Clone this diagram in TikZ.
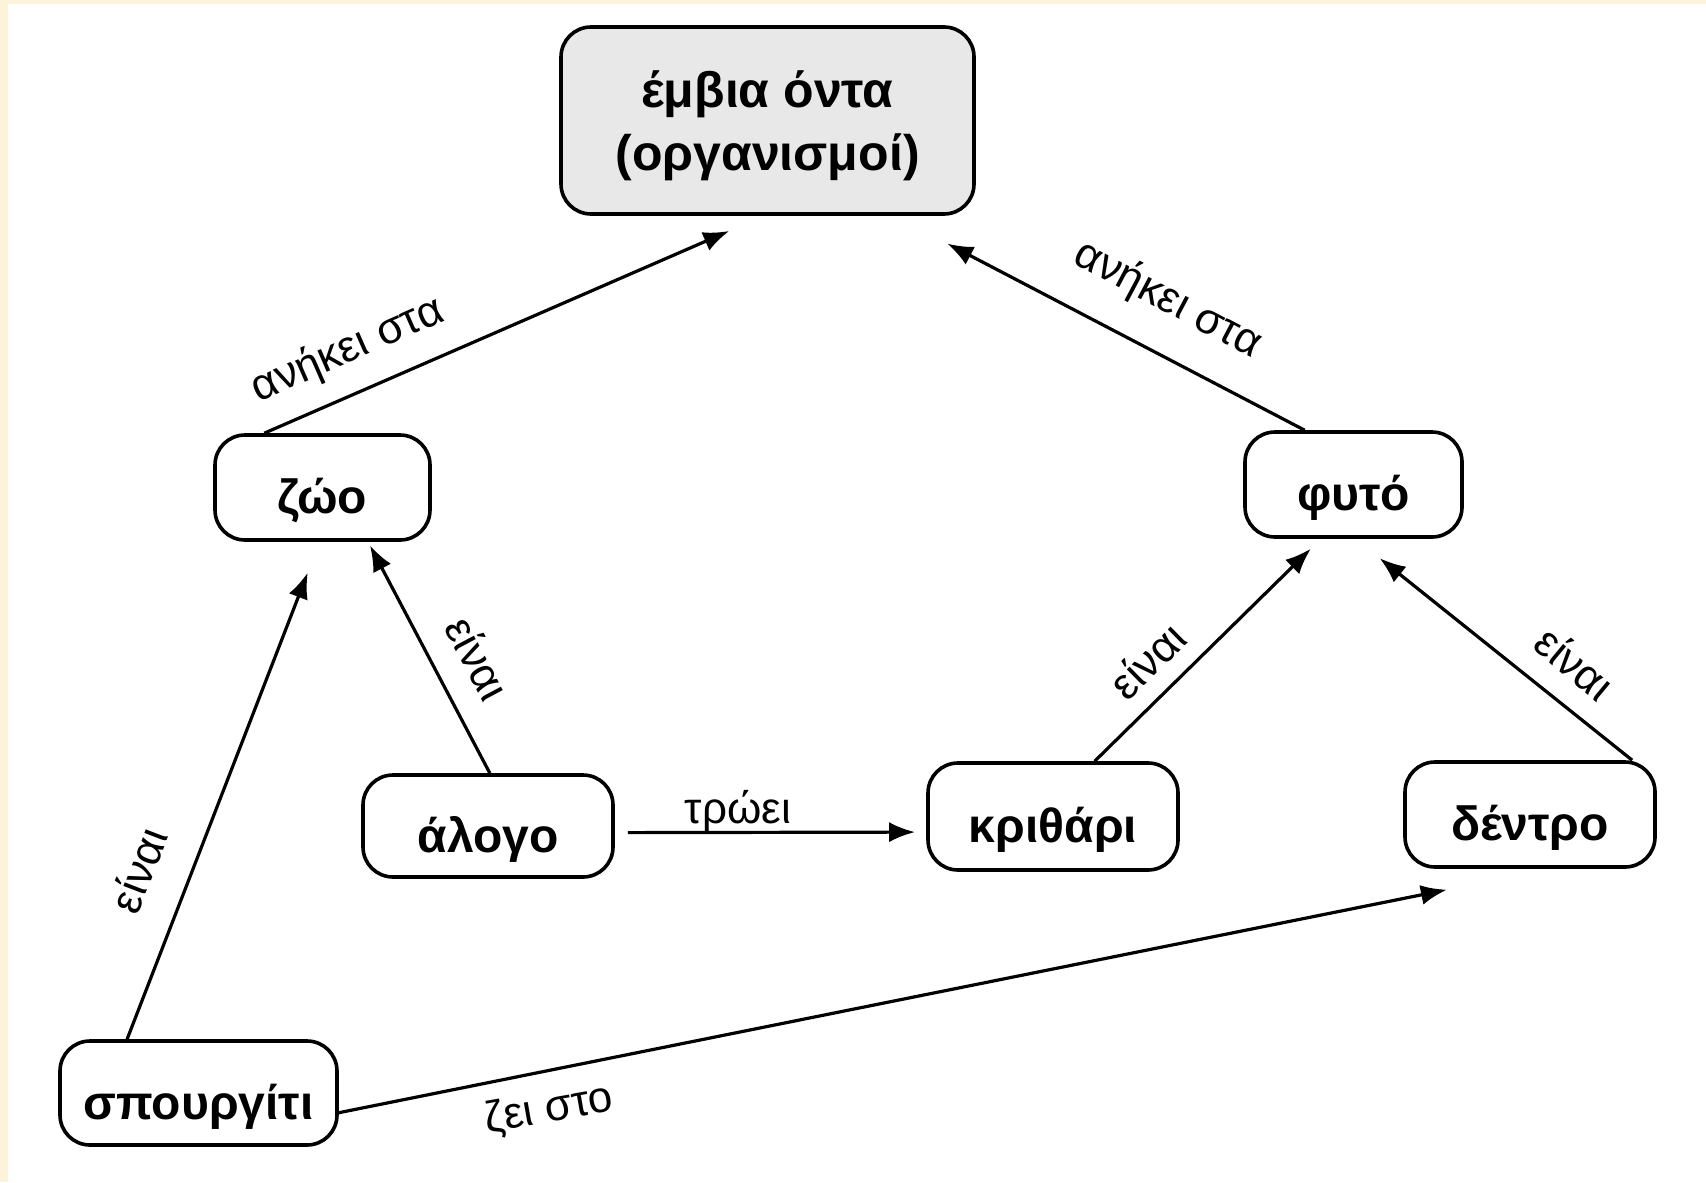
\documentclass[tikz,border=0pt]{standalone}
\usepackage{fontspec}
\setmainfont{Liberation Sans}
\usetikzlibrary{arrows.meta}
\definecolor{paper}{HTML}{FDF2DA}
\tikzset{
  concept/.style={draw=black, line width=1.8pt, rounded corners=15pt, fill=white,
    inner sep=0pt, text height=31pt, text depth=5pt,
    font=\fontsize{24}{28}\selectfont\bfseries},
  rootbox/.style={draw=black, line width=1.8pt, rounded corners=15pt, fill=black!9,
    inner sep=0pt, font=\fontsize{25}{31.5}\selectfont\bfseries},
  link/.style={line width=1.6pt, -{Latex[length=13pt,width=10pt]}},
  linklabel/.style={font=\fontsize{22}{26}\selectfont, inner sep=0pt}
}
\begin{document}
\begin{tikzpicture}[x=0.5pt, y=-0.5pt]
  % page and its tinted margin strips
  \fill[white] (0,0) rectangle (1706,1182);
  \fill[paper] (0,0) rectangle (8,1182);
  \fill[paper] (0,0) rectangle (1706,4);
  \useasboundingbox (0,0) rectangle (1706,1182);

  % concepts
  \node[rootbox, minimum width=206.5pt, minimum height=93.5pt] (org) at (767.5,120.5)
    {\raisebox{-3pt}[\height][\depth]{\begin{tabular}{@{}c@{}}έμβια όντα\\(οργανισμοί)\end{tabular}}};
  \node[concept, minimum width=107.5pt, minimum height=52.5pt] (zoo) at (322.5,487.5) {ζώο};
  \node[concept, minimum width=108.5pt, minimum height=52.5pt] (fyto) at (1353.5,484.5) {φυτό};
  \node[concept, minimum width=125pt, minimum height=51pt] (alogo) at (488,826) {άλογο};
  \node[concept, minimum width=125pt, minimum height=53.5pt] (krith) at (1053,816.5) {κριθάρι};
  \node[concept, minimum width=125pt, minimum height=52.5pt] (dentro) at (1530,814.5) {δέντρο};
  \node[concept, minimum width=138.5pt, minimum height=52pt] (spour) at (198.5,1093) {σπουργίτι};

  % relations
  \draw[link, shorten >=19pt] (zoo.137) -- (org.268);
  \draw[link, shorten >=30pt] (fyto.132) -- (org.323.5);
  \draw[link, shorten >=2pt] (alogo.88) -- (zoo.310);
  \draw[link, shorten >=16.5pt] (spour.143.6) -- (zoo.267.3);
  \draw[link, shorten >=7pt] (krith.53) -- (fyto.239.8);
  \draw[link, shorten >=15.5pt] (dentro.28.4) -- (fyto.272.7);
  \draw[link, shorten <=6.5pt, shorten >=5.5pt] (alogo.357) -- (krith.187);
  \draw[link, shorten >=53pt] (spour.352) -- (dentro.291.8);

  % relation labels
  \node[linklabel, rotate=23.6] (l1) at (348,350) {ανήκει στα};
  \node[linklabel, rotate=-27.9] (l2) at (1168,300) {ανήκει στα};
  \node[linklabel, rotate=-62] (l3) at (478,658) {είναι};
  \node[linklabel, rotate=69] (l4) at (138,870) {είναι};
  \node[linklabel, rotate=44.5] (l5) at (1147,660) {είναι};
  \node[linklabel, rotate=-39.7] (l6) at (1575,663) {είναι};
  \node[linklabel] (l7) at (738,811) {τρώει};
  \node[linklabel, rotate=10] (l8) at (549,1110) {ζει στο};
\end{tikzpicture}
\end{document}
